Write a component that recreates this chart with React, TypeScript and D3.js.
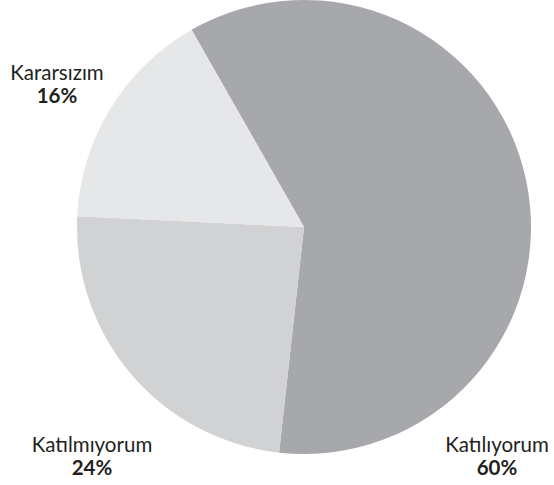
import React from "react";
import * as d3 from "d3";

const categories = ["Katılıyorum", "Katılmıyorum", "Kararsızım"];
const values = [60, 24, 16];
const percentLabels = ["60%", "24%", "16%"];
const colors = ["#a7a8ac", "#d1d2d4", "#e6e7e9"];

const W = 554;
const H = 485;
const cx = 304;
const cy = 227;
const R = 227;

// label anchor positions (center x, baseline y of category line)
const labelPos: [number, number][] = [
  [497, 452],
  [92, 452],
  [57, 80],
];

export default function App() {
  const start = (-29.7 * Math.PI) / 180;
  const pie = d3
    .pie<number>()
    .sort(null)
    .value((d) => d)
    .startAngle(start)
    .endAngle(start + 2 * Math.PI);
  const arcs = pie(values);
  const arc = d3.arc<d3.PieArcDatum<number>>().innerRadius(0).outerRadius(R);

  return (
    <svg
      width={W}
      height={H}
      style={{ position: "absolute", left: 0, top: 0, background: "#fff" }}
    >
      <g transform={`translate(${cx},${cy})`}>
        {arcs.map((a, i) => (
          <path key={i} d={arc(a) || ""} fill={colors[i]} />
        ))}
      </g>
      {categories.map((c, i) => (
        <g key={c} fontFamily="Lato, 'Open Sans', sans-serif" fill="#231f20" textAnchor="middle">
          <text x={labelPos[i][0]} y={labelPos[i][1]} fontSize={20.5}>
            {c}
          </text>
          <text x={labelPos[i][0]} y={labelPos[i][1] + 23} fontSize={20.5} fontWeight="bold">
            {percentLabels[i]}
          </text>
        </g>
      ))}
    </svg>
  );
}
